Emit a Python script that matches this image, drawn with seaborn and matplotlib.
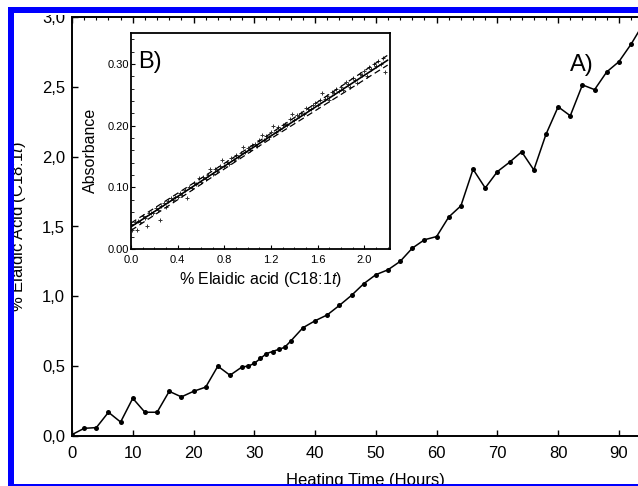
import matplotlib
matplotlib.use("Agg")
import matplotlib.pyplot as plt
from matplotlib.patches import Rectangle
from matplotlib.ticker import MultipleLocator
import seaborn as sns
import pandas as pd

# ---------------- data ----------------
hours = [0, 2, 4, 6, 8, 10, 12, 14, 16, 18, 20, 22, 24, 26, 28, 29, 30, 31, 32, 33,
         34, 35, 36, 38, 40, 42, 44, 46, 48, 50, 52, 54, 56, 58, 60, 62, 64, 66, 68,
         70, 72, 74, 76, 78, 80, 82, 84, 86, 88, 90, 92, 94]
elaidic = [0.01, 0.055, 0.06, 0.17, 0.10, 0.27, 0.17, 0.17, 0.32, 0.28, 0.32, 0.35,
           0.50, 0.435, 0.495, 0.50, 0.52, 0.555, 0.59, 0.605, 0.62, 0.635, 0.68,
           0.775, 0.825, 0.867, 0.935, 1.007, 1.09, 1.155, 1.19, 1.25, 1.345, 1.405,
           1.428, 1.568, 1.648, 1.91, 1.776, 1.893, 1.96, 2.035, 1.905, 2.16, 2.357,
           2.293, 2.514, 2.48, 2.607, 2.68, 2.805, 2.95]

main_xticks = [0, 10, 20, 30, 40, 50, 60, 70, 80, 90]
main_yticks = [0.0, 0.5, 1.0, 1.5, 2.0, 2.5, 3.0]
main_ytick_labels = ["0,0", "0,5", "1,0", "1,5", "2,0", "2,5", "3,0"]

inset_x = [0.00, 0.01, 0.03, 0.05, 0.06, 0.08, 0.10, 0.12, 0.14, 0.15, 0.17, 0.19,
           0.21, 0.23, 0.25, 0.26, 0.28, 0.30, 0.32, 0.34, 0.36, 0.38, 0.40, 0.42,
           0.44, 0.46, 0.48, 0.50, 0.52, 0.54, 0.56, 0.58, 0.60, 0.62, 0.64, 0.66,
           0.68, 0.70, 0.72, 0.74, 0.76, 0.78, 0.80, 0.82, 0.84, 0.86, 0.88, 0.90,
           0.92, 0.94, 0.96, 0.98, 1.00, 1.02, 1.04, 1.06, 1.08, 1.10, 1.12, 1.14,
           1.16, 1.18, 1.20, 1.22, 1.24, 1.26, 1.28, 1.30, 1.32, 1.34, 1.36, 1.38,
           1.40, 1.42, 1.44, 1.46, 1.48, 1.50, 1.52, 1.54, 1.56, 1.58, 1.60, 1.62,
           1.64, 1.66, 1.68, 1.70, 1.72, 1.74, 1.76, 1.78, 1.80, 1.82, 1.84, 1.86,
           1.88, 1.90, 1.92, 1.94, 1.96, 1.98, 2.00, 2.02, 2.04, 2.06, 2.08, 2.10,
           2.12, 2.14, 2.16, 2.18]
inset_y = [0.040, 0.031, 0.043, 0.030, 0.046, 0.043, 0.054, 0.050, 0.038, 0.058,
           0.058, 0.058, 0.066, 0.064, 0.047, 0.070, 0.074, 0.068, 0.077, 0.082,
           0.079, 0.085, 0.085, 0.091, 0.088, 0.095, 0.082, 0.101, 0.099, 0.107,
           0.106, 0.115, 0.109, 0.116, 0.113, 0.120, 0.129, 0.121, 0.129, 0.127,
           0.135, 0.144, 0.134, 0.141, 0.138, 0.147, 0.145, 0.153, 0.149, 0.156,
           0.166, 0.157, 0.164, 0.161, 0.168, 0.170, 0.167, 0.177, 0.185, 0.177,
           0.183, 0.181, 0.190, 0.199, 0.190, 0.197, 0.194, 0.201, 0.202, 0.201,
           0.210, 0.219, 0.209, 0.217, 0.215, 0.221, 0.218, 0.228, 0.227, 0.227,
           0.233, 0.236, 0.234, 0.242, 0.252, 0.243, 0.248, 0.241, 0.254, 0.252,
           0.260, 0.256, 0.263, 0.257, 0.270, 0.267, 0.262, 0.277, 0.274, 0.269,
           0.284, 0.282, 0.288, 0.281, 0.295, 0.291, 0.299, 0.297, 0.305, 0.300,
           0.309, 0.286]

fit_x = [0.0, 1.1, 2.2]
fit_y = [0.036, 0.171, 0.306]
band_upper = [0.042, 0.175, 0.314]
band_lower = [0.030, 0.167, 0.298]

inset_xticks = [0.0, 0.4, 0.8, 1.2, 1.6, 2.0]
inset_xtick_labels = ["0.0", "0.4", "0.8", "1.2", "1.6", "2.0"]
inset_yticks = [0.0, 0.1, 0.2, 0.3]
inset_ytick_labels = ["0.00", "0.10", "0.20", "0.30"]

# ---------------- style ----------------
sns.set_style("ticks")
plt.rcParams["font.family"] = ["Liberation Sans", "DejaVu Sans"]
plt.rcParams["mathtext.fontset"] = "custom"
plt.rcParams["mathtext.rm"] = "Liberation Sans"
plt.rcParams["mathtext.it"] = "Liberation Sans:italic"
for key in ["text.color", "axes.labelcolor", "xtick.color", "ytick.color",
            "xtick.labelcolor", "ytick.labelcolor"]:
    plt.rcParams[key] = "black"

W, H = 638, 486
fig = plt.figure(figsize=(W / 100, H / 100), dpi=100)
fig.patch.set_facecolor("white")


def fx(px):
    return px / W


def fy(py):
    return 1 - py / H


# ---------------- main axes ----------------
ax = fig.add_axes([fx(72), fy(436), fx(659) - fx(72), fy(17) - fy(436)])
main_df = pd.DataFrame({"hours": hours, "elaidic": elaidic})
sns.lineplot(data=main_df, x="hours", y="elaidic", ax=ax, color="black",
             linewidth=1.1, marker="o", markersize=3.6, markeredgewidth=0,
             markerfacecolor="black")
ax.set_xlim(0, 96.6)
ax.set_ylim(0, 3.0)
ax.set_xticks(main_xticks)
ax.set_yticks(main_yticks)
ax.set_yticklabels(main_ytick_labels)
ax.xaxis.set_minor_locator(MultipleLocator(2))
ax.tick_params(axis="both", which="major", direction="in", length=4, width=1,
               labelsize=12, colors="black")
ax.tick_params(axis="x", which="major", pad=7, top=True)
ax.tick_params(axis="x", which="minor", direction="in", length=2.5, width=0.8,
               bottom=False, top=True)
ax.tick_params(axis="y", which="major", pad=5)
for s in ax.spines.values():
    s.set_linewidth(1.4)
    s.set_color("black")
ax.set_xlabel("Heating Time (Hours)", fontsize=12, color="black")
ax.set_ylabel("% Elaidic Acid (C18:1$\\it{t}$)", fontsize=12, color="black")
ax.xaxis.set_label_coords(0.5, -0.089)
ax.yaxis.set_label_coords(-0.075, 0.5)
ax.text(82, 2.61, "A)", fontsize=17, va="baseline", ha="left", color="black")

# ---------------- inset ----------------
axin = fig.add_axes([fx(131), fy(249), fx(390) - fx(131), fy(33) - fy(249)])
axin.set_facecolor("white")
ins_df = pd.DataFrame({"x": inset_x, "y": inset_y})
sns.scatterplot(data=ins_df, x="x", y="y", ax=axin, marker="+", s=12,
                color="#333333", linewidth=0.7, zorder=2)
fit_df = pd.DataFrame({"x": fit_x, "fit": fit_y, "up": band_upper, "lo": band_lower})
sns.lineplot(data=fit_df, x="x", y="fit", ax=axin, color="black", linewidth=1.2,
             zorder=3)
sns.lineplot(data=fit_df, x="x", y="up", ax=axin, color="black", linewidth=0.9,
             linestyle=(0, (5, 3)), zorder=3)
sns.lineplot(data=fit_df, x="x", y="lo", ax=axin, color="black", linewidth=0.9,
             linestyle=(0, (5, 3)), zorder=3)
axin.set_xlim(0, 2.22)
axin.set_ylim(0, 0.35)
axin.set_xticks(inset_xticks)
axin.set_xticklabels(inset_xtick_labels)
axin.set_yticks(inset_yticks)
axin.set_yticklabels(inset_ytick_labels)
axin.xaxis.set_minor_locator(MultipleLocator(0.1))
axin.yaxis.set_minor_locator(MultipleLocator(0.02))
axin.tick_params(axis="both", which="major", direction="in", length=3, width=0.8,
                 labelsize=8, colors="black")
axin.tick_params(axis="both", which="minor", direction="in", length=1.8, width=0.6)
axin.tick_params(axis="x", which="major", pad=4)
axin.tick_params(axis="y", which="major", pad=1.5)
for s in axin.spines.values():
    s.set_linewidth(1.3)
    s.set_color("black")
axin.set_xlabel("% Elaidic acid (C18:1$\\it{t}$)", fontsize=11.5, color="black")
axin.set_ylabel("Absorbance", fontsize=11.5, color="black")
axin.xaxis.set_label_coords(0.5, -0.097)
axin.yaxis.set_label_coords(-0.127, 0.458)
axin.text(0.027, 0.838, "B)", transform=axin.transAxes, fontsize=17,
          va="baseline", ha="left", color="black")

# ---------------- frame (cropped picture border) ----------------
blue = "#0000ff"


def frect(x0, y0, x1, y1, color):
    fig.add_artist(Rectangle((fx(x0), fy(y1)), fx(x1) - fx(x0), fy(y0) - fy(y1),
                             transform=fig.transFigure, facecolor=color,
                             edgecolor="none", zorder=10))


frect(0, 0, W, 15.5, "white")
frect(0, 0, 8, H, "white")
frect(8, 7, W, 13.3, blue)
frect(8, 7, 13.5, H, blue)
frect(8, 483.6, W, H, blue)

fig.savefig("out.png", dpi=100)
